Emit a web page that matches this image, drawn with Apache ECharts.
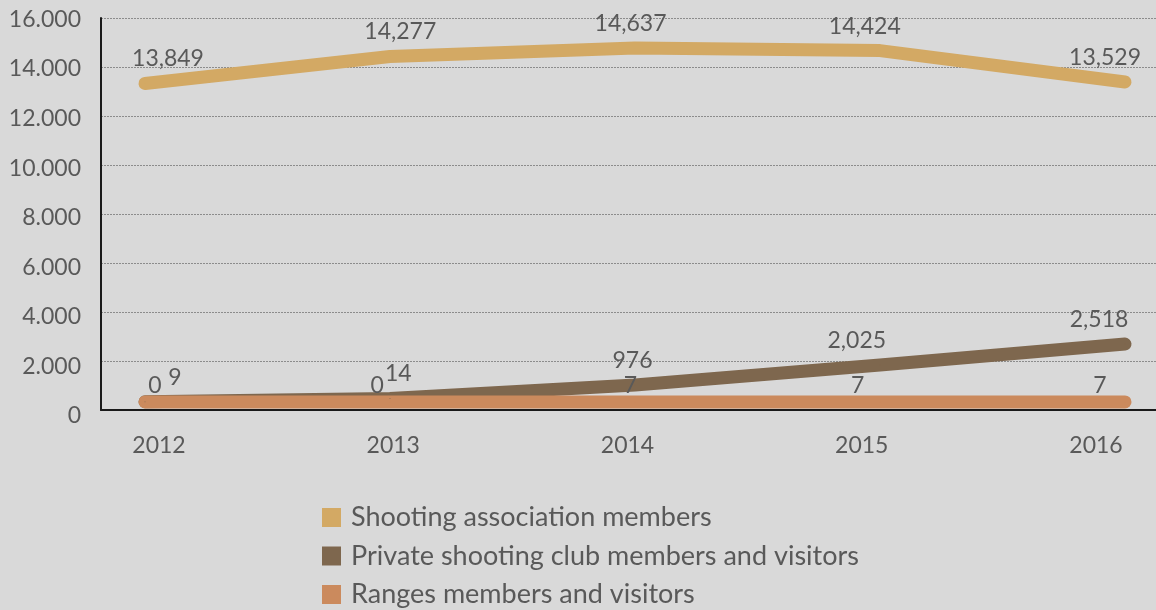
<!DOCTYPE html>
<html>
<head>
<meta charset="utf-8">
<script src="https://cdn.jsdelivr.net/npm/echarts@6/dist/echarts.min.js"></script>
<style>
  html, body { margin: 0; padding: 0; background: #d9d9d9; }
  #chart { width: 1156px; height: 610px; }
</style>
</head>
<body>
<div id="chart"></div>
<script>
// categories
const years = [2012, 2013, 2014, 2015, 2016];

// series values as drawn by the lines
const shootingValues = [13330, 14430, 14780, 14670, 13390];
const privateValues = [340, 470, 1020, 1840, 2690];
const rangesValues = [330, 330, 330, 330, 330];

// data labels as printed on the chart
const shootingLabels = ['13,849', '14,277', '14,637', '14,424', '13,529'];
const privateLabels = ['9', '14', '976', '2,025', '2,518'];
const rangesLabels = ['0', '0', '7', '7', '7'];

// y tick labels
const yTicks = [0, 2000, 4000, 6000, 8000, 10000, 12000, 14000, 16000];
const yTickLabels = ['0', '2.000', '4.000', '6.000', '8.000', '10.000', '12.000', '14.000', '16.000'];

const seriesNames = [
  'Shooting association members',
  'Private shooting club members and visitors',
  'Ranges members and visitors'
];

const textColor = '#595959';
const fontFamily = 'Lato';
const colors = ['#d3a964', '#7e674e', '#cb8a5d'];

// small horizontal nudges so the labels don't sit on top of each other (px)
const shootingNudge = [9, 7, 3, 3, 9];
const privateNudge = [16, 5, 5, -5, 3];
const rangesNudge = [-4, -16, 3, -4, 4];

const chart = echarts.init(document.getElementById('chart'), null, { renderer: 'canvas' });

function getLine(name, values, labels, color, distance, dx, nudge) {
  return {
    name,
    type: 'line',
    xAxisIndex: 0,
    yAxisIndex: 0,
    symbol: 'circle',
    symbolSize: 1,
    showSymbol: true,
    smooth: false,
    animation: false,
    itemStyle: { color },
    lineStyle: { color, width: 13, cap: 'round', join: 'round' },
    label: {
      show: true,
      position: 'top',
      distance,
      color: textColor,
      fontFamily,
      fontSize: 23,
      lineHeight: 24,
      formatter: p => labels[p.dataIndex]
    },
    data: values.map((v, i) => ({
      value: [years[i], v],
      label: { offset: [(dx ? dx[i] : 0) + nudge[i], 0] }
    }))
  };
}

function buildOption(dx) {
  return {
    backgroundColor: '#d9d9d9',
    animation: false,
    color: colors,
    grid: [
      // plot area
      { left: 101, right: 0, top: 18, bottom: 200 },
      // tick label frame
      { left: 101, right: 0, top: 19.5, bottom: 194 }
    ],
    xAxis: [
      {
        type: 'value', gridIndex: 0, min: 2011.8204, max: 2016.1265,
        axisLine: { show: true, lineStyle: { color: '#1a1a1a', width: 2 } },
        axisTick: { show: false }, axisLabel: { show: false }, splitLine: { show: false }
      },
      {
        type: 'value', gridIndex: 1, min: 2011.7524, max: 2016.256,
        axisLine: { show: false }, axisTick: { show: false }, splitLine: { show: false },
        axisLabel: {
          show: true, customValues: years, margin: 18,
          color: textColor, fontFamily, fontSize: 23,
          formatter: v => String(v)
        }
      }
    ],
    yAxis: [
      {
        type: 'value', gridIndex: 0, min: 0, max: 16000, interval: 2000,
        axisLine: { show: true, lineStyle: { color: '#1a1a1a', width: 2 } },
        axisTick: { show: false }, axisLabel: { show: false },
        splitLine: { show: true, lineStyle: { color: '#8c8c8c', width: 1, type: [2, 1] } }
      },
      {
        type: 'value', gridIndex: 1, min: 0, max: 16000, interval: 2000,
        axisLine: { show: false }, axisTick: { show: false }, splitLine: { show: false },
        axisLabel: {
          show: true, margin: 20, color: textColor, fontFamily, fontSize: 23,
          formatter: v => yTickLabels[yTicks.indexOf(v)]
        }
      }
    ],
    legend: {
      orient: 'vertical',
      left: 322,
      top: 504,
      padding: 0,
      icon: 'rect',
      itemWidth: 19,
      itemHeight: 19,
      itemGap: 11.5,
      textStyle: { color: textColor, fontFamily, fontSize: 27, lineHeight: 27, padding: [0, 0, 0, 5] },
      data: seriesNames
    },
    series: [
      getLine(seriesNames[0], shootingValues, shootingLabels, colors[0], 12, dx, shootingNudge),
      getLine(seriesNames[1], privateValues, privateLabels, colors[1], 12, dx, privateNudge),
      getLine(seriesNames[2], rangesValues, rangesLabels, colors[2], 4, dx, rangesNudge)
    ]
  };
}

chart.setOption(buildOption(null));

// labels sit at the tick-label positions, which are spaced a bit differently from the line points
const dx = years.map(y =>
  chart.convertToPixel({ xAxisIndex: 1 }, y) - chart.convertToPixel({ xAxisIndex: 0 }, y)
);
chart.setOption(buildOption(dx));
</script>
</body>
</html>
